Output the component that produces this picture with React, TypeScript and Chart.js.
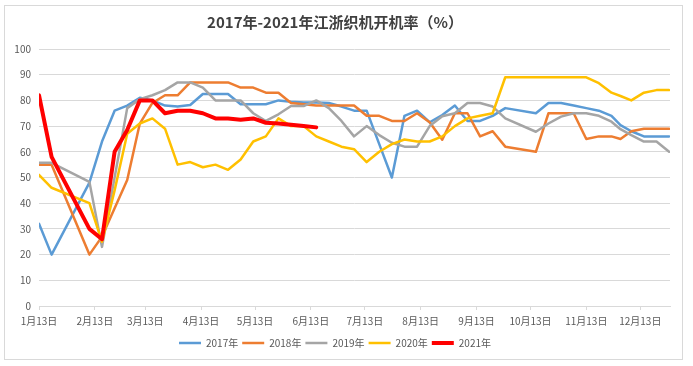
import React, { useEffect, useRef } from "react";
import { Chart, registerables } from "chart.js";

Chart.register(...registerables);

// Days after Jan 13 for each weekly observation
const days = [0, 7, 28, 35, 42, 49, 56, 63, 70, 77, 84, 91, 98, 105, 112, 119, 126, 133, 140, 147, 154, 161, 168, 175, 182, 189, 196, 203, 210, 217, 224, 231, 238, 245, 252, 259, 276, 283, 290, 297, 304, 311, 318, 323, 329, 336, 343, 350];

const s2017 = [32, 20, 48, 64, 76, 78, 81, 80, 78, 77.6, 78.2, 82.5, 82.5, 82.5, 78.5, 78.5, 78.5, 80, 79.5, 79.2, 79.2, 79, 77.6, 76, 76, 63, 50, 74, 76, 71.5, 74.3, 78, 72, 72, 74, 77, 75, 79, 79, 78, 77, 76, 74, 70.4, 68, 66, 66, 66];
const s2018 = [55, 55, 20, 27, 38, 49, 71, 79, 82, 82, 87, 87, 87, 87, 85, 85, 83, 83, 79, 78.5, 78, 78, 78, 78, 74, 74, 72, 72, 75, 71.5, 64.7, 75, 75, 66, 68, 62, 60, 75, 75, 75, 65, 66, 66, 65, 68, 69, 69, 69];
const s2019 = [55.7, 55.7, 48.3, 23, null, 77, 80.5, 82, 84, 87, 87, 85, 80, 80, 80, 75, 72, 74.6, 77.8, 77.8, 80, 77, 72, 66, 70, 66.5, 63.5, 62, 62, 70, 73.8, 75, 79, 79, 77.6, 73, 67.8, 71, 73.7, 75, 75, 74, 71.7, 68.8, 66.5, 64, 64, 60];
const s2020 = [51, 46, 40, 25, 45, 67, 71, 73, 69, 55, 56, 54, 55, 53, 57, 64, 66, 73, 70, 70, 66, 64, 62, 61, 56, 60, 63, 64.8, 64, 64, 66, 70, 73, 74, 75, 89, 89, 89, 89, 89, 89, 86.7, 83, 81.7, 80, 83, 84, 84];
const s2021 = [82, 58, 30, 26, 60, 68.5, 80, 80, 75, 76, 76, 75, 73, 73, 72.5, 73, 71.3, 71, 70.5, 70, 69.5, null, null, null, null, null, null, null, null, null, null, null, null, null, null, null, null, null, null, null, null, null, null, null, null, null, null, null];

const seriesNames = ["2017年", "2018年", "2019年", "2020年", "2021年"];
const seriesValues = [s2017, s2018, s2019, s2020, s2021];
const seriesColors = ["#5B9BD5", "#ED7D31", "#A5A5A5", "#FFC000", "#FF0000"];
const seriesWidths = [2.5, 2.5, 2.5, 2.5, 4];

const tickDays = [0, 31, 59, 90, 120, 151, 181, 212, 243, 273, 304, 334];
const tickLabels = ["1月13日", "2月13日", "3月13日", "4月13日", "5月13日", "6月13日", "7月13日", "8月13日", "9月13日", "10月13日", "11月13日", "12月13日"];

const titleText = "2017年-2021年江浙织机开机率（%）";
const FONT = "'Noto Sans CJK SC', 'Noto Sans', sans-serif";

export default function App() {
  const ref = useRef<HTMLCanvasElement | null>(null);

  useEffect(() => {
    if (!ref.current) return;
    const datasets = seriesNames.map((name, k) => ({
      label: name,
      data: days.map((d, i) => ({ x: d, y: seriesValues[k][i] })),
      borderColor: seriesColors[k],
      backgroundColor: seriesColors[k],
      borderWidth: seriesWidths[k],
      pointRadius: 0,
      pointHoverRadius: 0,
      tension: 0,
      spanGaps: true,
      borderJoinStyle: "round" as const,
      borderCapStyle: "round" as const,
      order: 10 - k,
    }));
    const chart = new Chart(ref.current, {
      type: "line",
      data: { datasets },
      options: {
        animation: false,
        responsive: false,
        maintainAspectRatio: false,
        layout: { padding: { left: 0, right: 23, top: 0, bottom: 8 } },
        plugins: {
          title: {
            display: true,
            text: titleText,
            color: "#404040",
            font: { family: FONT, size: 15, weight: "bold", lineHeight: 1.2 },
            padding: { top: 13, bottom: 18 },
          },
          legend: {
            position: "bottom",
            labels: {
              usePointStyle: true,
              pointStyle: "line",
              pointStyleWidth: 22,
              boxHeight: 10,
              padding: 4,
              color: "#595959",
              font: { family: FONT, size: 10 },
              sort: (a: any, b: any) => a.datasetIndex - b.datasetIndex,
            },
          },
          tooltip: { enabled: false },
        },
        scales: {
          x: {
            type: "linear",
            min: 0,
            max: 350.5,
            afterBuildTicks: (scale: any) => {
              scale.ticks = tickDays.map((v) => ({ value: v }));
            },
            afterFit: (scale: any) => {
              scale.height = 28;
            },
            ticks: {
              autoSkip: false,
              maxRotation: 0,
              padding: 5,
              color: "#595959",
              font: { family: FONT, size: 10 },
              callback: (v: any) => {
                const idx = tickDays.indexOf(Number(v));
                return idx >= 0 ? tickLabels[idx] : "";
              },
            },
            grid: { drawOnChartArea: false, drawTicks: true, tickLength: 4, color: "#d9d9d9" },
            border: { display: true, color: "#d9d9d9" },
          },
          y: {
            min: 0,
            max: 100,
            afterFit: (scale: any) => {
              scale.width = 39;
            },
            ticks: {
              stepSize: 10,
              padding: 8,
              color: "#595959",
              font: { family: FONT, size: 10 },
            },
            grid: { color: "#d9d9d9", drawTicks: false },
            border: { display: false },
          },
        },
      },
    });
    return () => chart.destroy();
  }, []);

  return (
    <div style={{ position: "absolute", left: 0, top: 0, width: 693, height: 366, background: "#fff" }}>
      <canvas ref={ref} width={693} height={366} style={{ position: "absolute", left: 0, top: 0, width: 693, height: 366 }} />
      <div
        style={{
          position: "absolute",
          left: 4,
          top: 5,
          width: 679,
          height: 355,
          border: "1px solid #d9d9d9",
          boxSizing: "border-box",
          pointerEvents: "none",
        }}
      />
    </div>
  );
}
